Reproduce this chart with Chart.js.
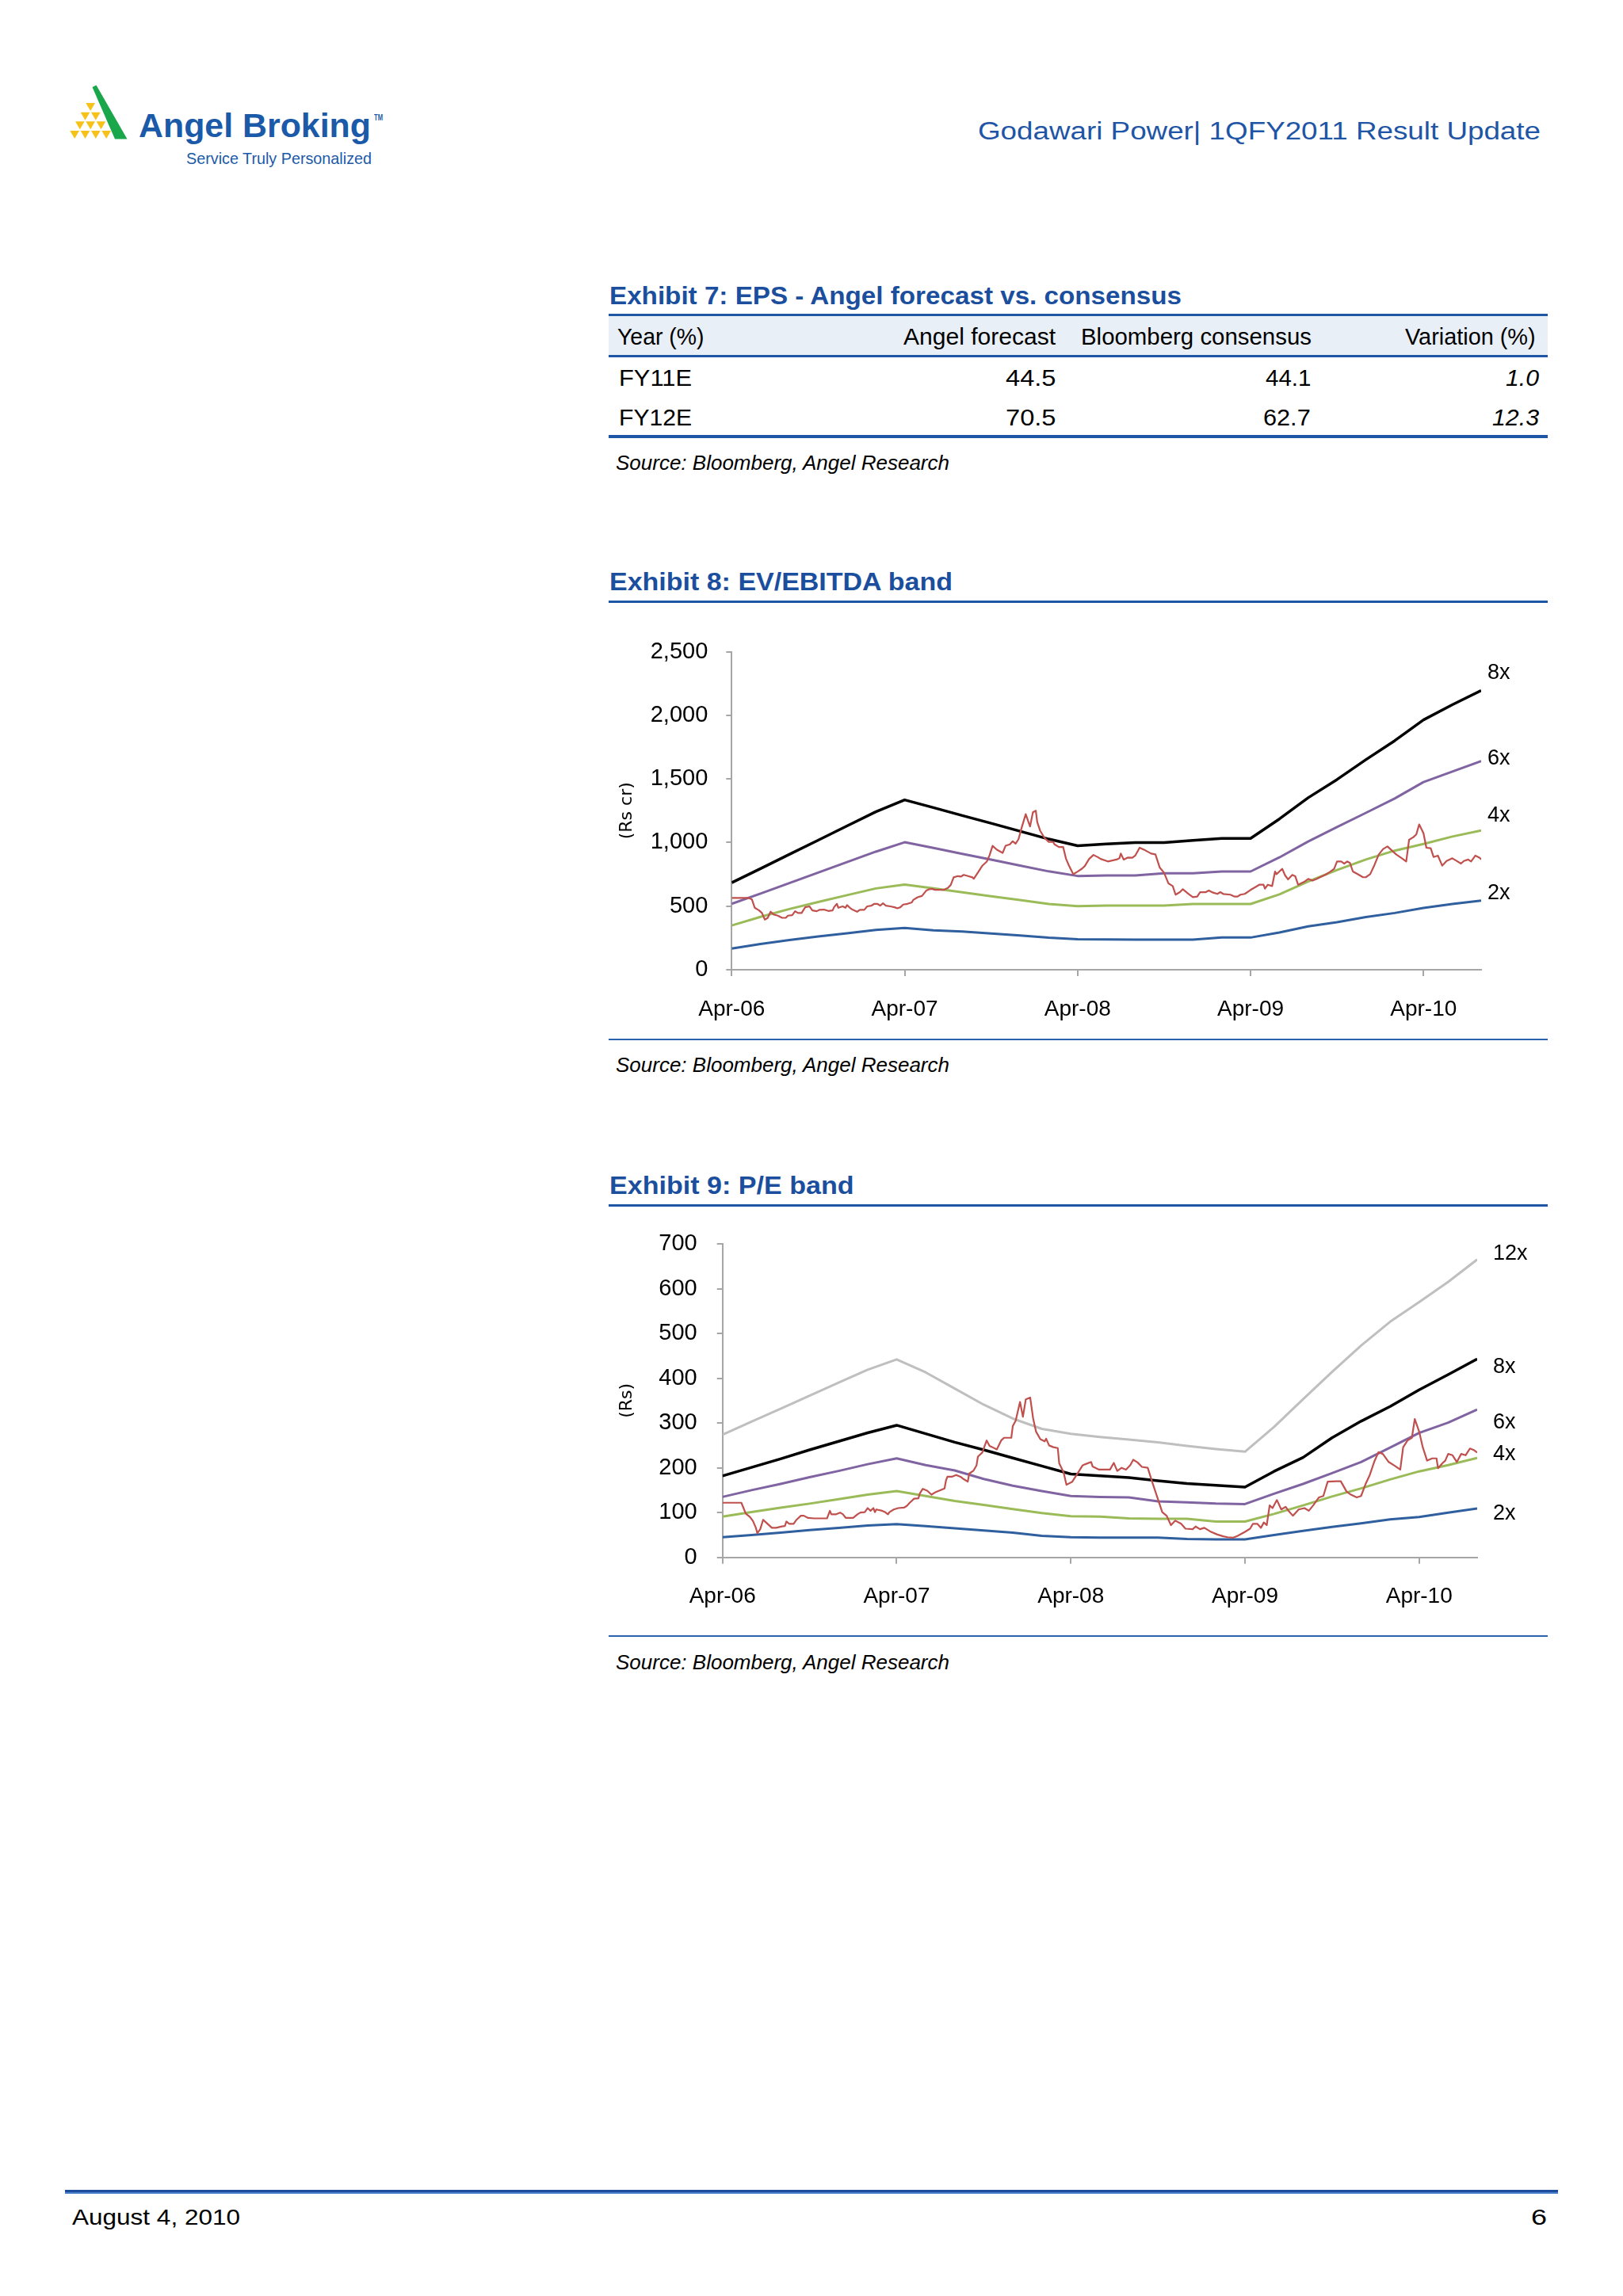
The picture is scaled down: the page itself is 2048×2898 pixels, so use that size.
<!DOCTYPE html>
<html><head><meta charset="utf-8">
<script src="https://cdn.jsdelivr.net/npm/chart.js@4.4.1/dist/chart.umd.min.js"></script>
<style>
html,body{margin:0;padding:0;}
body{width:2048px;height:2898px;position:relative;background:#fff;overflow:hidden;font-family:'Liberation Sans',Arial,sans-serif;}
.t{position:absolute;white-space:nowrap;line-height:1;transform-origin:left top;color:#000;}
.b{font-weight:bold;}
.i{font-style:italic;}
.blue{color:#1b4f9e;}
.rule{position:absolute;}
canvas{position:absolute;}
</style></head><body>

<svg style="position:absolute;left:0;top:0" width="200" height="200" viewBox="0 0 200 200">
  <polygon points="116.5,110 121.5,107.5 160.5,175.5 145,175.5" fill="#1aa64a"/>
  <g fill="#f6c21a">
    <polygon points="108.3,130 120,130 114.2,140"/>
    <polygon points="101.7,141.7 113.3,141.7 107.5,151.7"/>
    <polygon points="115,141.7 126.7,141.7 120.8,151.7"/>
    <polygon points="95,153.3 106.7,153.3 100.8,163.3"/>
    <polygon points="108.3,153.3 120,153.3 114.2,163.3"/>
    <polygon points="121.7,153.3 133.3,153.3 127.5,163.3"/>
    <polygon points="88.3,165 100,165 94.2,175"/>
    <polygon points="101.7,165 113.3,165 107.5,175"/>
    <polygon points="115,165 126.7,165 120.8,175"/>
    <polygon points="128.3,165 140,165 134.2,175"/>
  </g>
</svg>
<div class="t b" style="left:175px;top:138px;font-size:42px;color:#1b5aa8" data-w="293">Angel Broking</div>
<div class="t b" style="left:472px;top:143.5px;font-size:10px;color:#1b5aa8" data-w="11">TM</div>
<div class="t" style="left:235px;top:189px;font-size:21px;color:#1b5aa8" data-w="234">Service Truly Personalized</div>
<div class="t" style="top:150px;font-size:31px;color:#1f55a5" data-w="710" data-r="1944">Godawari Power| 1QFY2011 Result Update</div>

<div class="t b blue" style="left:769px;top:357.7px;font-size:31px" data-w="722">Exhibit 7: EPS - Angel forecast vs. consensus</div>
<div class="rule" style="left:768px;top:399.3px;width:1185px;height:49px;background:#e9eff7"></div>
<div class="rule" style="left:768px;top:396px;width:1185px;height:3.3px;background:#1f55a5"></div>
<div class="rule" style="left:768px;top:448.3px;width:1185px;height:2.4px;background:#1f55a5"></div>
<div class="rule" style="left:768px;top:549.3px;width:1185px;height:3.3px;background:#1f55a5"></div>
<div class="t" style="left:779px;top:411.2px;font-size:29px" data-w="109.5">Year (%)</div>
<div class="t" style="top:411.2px;font-size:29px" data-w="192" data-r="1332">Angel forecast</div>
<div class="t" style="top:411.2px;font-size:29px" data-w="291" data-r="1655">Bloomberg consensus</div>
<div class="t" style="top:411.2px;font-size:29px" data-w="164.6" data-r="1938">Variation (%)</div>
<div class="t" style="left:781.4px;top:462.9px;font-size:29px" data-w="92">FY11E</div>
<div class="t" style="top:462.9px;font-size:29px" data-w="63.5" data-r="1332">44.5</div>
<div class="t" style="top:462.9px;font-size:29px" data-w="57.4" data-r="1654">44.1</div>
<div class="t i" style="top:462.9px;font-size:29px" data-w="42" data-r="1942">1.0</div>
<div class="t" style="left:781.4px;top:512.9px;font-size:29px" data-w="92">FY12E</div>
<div class="t" style="top:512.9px;font-size:29px" data-w="63.5" data-r="1332">70.5</div>
<div class="t" style="top:512.9px;font-size:29px" data-w="59.7" data-r="1654">62.7</div>
<div class="t i" style="top:512.9px;font-size:29px" data-w="59" data-r="1942">12.3</div>
<div class="t i" style="left:777px;top:571.7px;font-size:25px" data-w="421">Source: Bloomberg, Angel Research</div>

<div class="t b blue" style="left:769px;top:719px;font-size:31px" data-w="433">Exhibit 8: EV/EBITDA band</div>
<div class="rule" style="left:768px;top:757.7px;width:1185px;height:3.3px;background:#1f55a5"></div>
<canvas id="evChart" width="1184" height="510" style="left:769px;top:790px;width:1184px;height:510px"></canvas>
<div class="rule" style="left:768px;top:1311px;width:1185px;height:2.2px;background:#2d62ad"></div>
<div class="t i" style="left:777px;top:1332.3px;font-size:25px" data-w="421">Source: Bloomberg, Angel Research</div>

<div class="t b blue" style="left:769px;top:1481px;font-size:31px" data-w="308.5">Exhibit 9: P/E band</div>
<div class="rule" style="left:768px;top:1519.5px;width:1185px;height:3px;background:#1f55a5"></div>
<canvas id="peChart" width="1184" height="520" style="left:769px;top:1530px;width:1184px;height:520px"></canvas>
<div class="rule" style="left:768px;top:2064px;width:1185px;height:2.2px;background:#2d62ad"></div>
<div class="t i" style="left:777px;top:2086.2px;font-size:25px" data-w="421">Source: Bloomberg, Angel Research</div>

<div class="rule" style="left:82px;top:2764px;width:1884px;height:2.8px;background:#1c4d9c"></div>
<div class="rule" style="left:82px;top:2766.8px;width:1884px;height:2px;background:#4a80cc"></div>
<div class="t" style="left:91px;top:2784.7px;font-size:28px" data-w="212">August 4, 2010</div>
<div class="t" style="top:2784.7px;font-size:28px" data-w="20" data-r="1952">6</div>

<script>
// ---------- shared axis data ----------
const bandMonths = [0,2,4,6,8,10,12,14,16,18,20,22,24,26,28,30,32,34,36,38,40,42,44,46,48,50,52];
const tickMonths = [0,12,24,36,48];
const tickLabels = ['Apr-06','Apr-07','Apr-08','Apr-09','Apr-10'];

// ---------- Exhibit 8: EV/EBITDA band (Rs cr) ----------
const ev8x = [684,795,907,1018,1130,1241,1335,1274,1212,1151,1089,1027,974,988,1000,1000,1017,1032,1032,1185,1352,1495,1651,1800,1964,2083,2194];
const ev6x = [518,599,681,764,846,928,1002,957,911,865,819,773,737,741,741,758,758,772,772,883,1008,1122,1233,1346,1475,1557,1640];
const ev4x = [348,416,477,532,586,639,670,640,608,578,548,517,500,505,505,505,517,517,517,592,693,784,866,936,989,1047,1094];
const ev2x = [166,202,233,261,287,313,328,310,300,285,270,252,240,238,237,237,237,253,253,293,341,373,414,446,486,517,544];
const evPriceMonths = [
  0,1.2,1.4,1.6,1.9,2.1,2.3,2.5,2.7,2.9,
  3.2,3.5,3.75,3.9,4.2,4.4,4.6,4.85,5.1,5.4,
  5.6,5.9,6.1,6.4,6.7,7.0,7.1,7.3,7.4,7.7,
  7.9,8.0,8.2,8.4,8.7,8.9,9.2,9.4,9.7,9.9,
  10.1,10.3,10.5,10.7,11.0,11.3,11.5,11.7,11.9,12.2,
  12.5,12.6,12.9,13.2,13.5,13.7,13.9,14.1,14.5,14.7,
  15.0,15.2,15.4,15.7,15.9,16.1,16.4,16.7,16.8,17.1,
  17.4,17.7,17.9,18.1,18.4,18.8,19.0,19.3,19.5,19.7,
  19.9,20.1,20.4,20.7,20.9,21.1,21.2,21.4,21.7,22.0,
  22.3,22.4,22.7,23.0,23.2,23.4,23.7,24.0,24.3,24.5,
  24.8,25.1,25.4,25.6,26.1,26.7,26.9,27.0,27.2,27.5,
  27.8,28.0,28.3,28.7,29.1,29.4,29.7,30.0,30.3,30.6,
  30.8,31.1,31.3,31.7,32.0,32.3,32.5,32.9,33.1,33.4,
  33.7,33.9,34.1,34.6,34.9,35.1,35.3,35.6,36.0,36.4,
  36.6,36.9,37.0,37.2,37.5,37.7,37.8,38.0,38.2,38.4,
  38.6,38.9,39.1,39.3,39.7,40.0,40.3,40.6,40.9,41.2,
  41.5,41.8,42.0,42.3,42.5,42.7,42.9,43.1,43.5,43.8,
  44.0,44.3,44.6,44.9,45.2,45.5,45.8,46.1,46.5,46.8,
  47.0,47.3,47.5,47.7,48.0,48.2,48.5,48.7,49.0,49.3,
  49.6,50.0,50.3,50.6,50.8,51.1,51.3,51.6,51.9,52.0];
const evPrice = [
  564,564,553,487,466,446,394,408,456,435,
  425,408,408,425,429,460,446,446,491,498,
  466,460,471,473,462,466,491,518,487,498,
  487,508,487,471,456,471,471,498,504,518,
  518,504,522,504,498,491,483,491,512,518,
  529,549,570,580,622,632,636,628,628,628,
  643,667,726,736,732,746,736,726,715,767,
  819,850,902,974,943,918,974,985,1010,991,
  1026,1109,1223,1126,1238,1250,1161,1093,1037,1005,
  1005,985,964,964,871,819,750,771,794,815,
  871,902,885,871,851,866,876,913,866,882,
  880,897,959,938,913,907,803,762,679,658,
  590,610,633,596,571,575,610,610,623,606,
  596,610,596,590,575,575,590,596,627,654,
  668,668,637,668,658,772,751,772,793,741,
  710,745,735,668,689,714,700,714,731,747,
  768,793,851,851,834,851,839,772,747,727,
  727,751,824,907,949,969,938,907,876,851,
  1021,1042,1063,1142,1073,959,955,886,897,818,
  855,876,855,834,855,866,851,897,880,866];
const evBandNames = ['8x','6x','4x','2x'];
const evBandLabelValues = [2332,1658,1209,599];

// ---------- Exhibit 9: P/E band (Rs) ----------
const pe12x = [274,303,332,361,390,419,442,413,377,341,310,287,276,269,263,257,249,242,236,291,353,414,473,526,570,615,665];
const pe8x = [182,201,220,240,259,278,295,276,257,240,222,204,186,182,178,171,165,161,157,192,223,267,304,337,374,408,443];
const pe6x = [135,150,164,179,193,208,221,206,194,175,160,148,137,135,134,125,123,120,119,142,164,188,213,245,278,301,330];
const pe4x = [91,101,111,120,130,140,148,137,126,117,108,99,92,91,87,86,86,80,80,97,116,136,154,174,192,206,222];
const pe2x = [45,50,55,61,66,71,74,70,65,60,55,48,45,44,44,44,41,40,40,50,59,68,76,85,90,100,109];
const pePriceMonths = [
  0,1.3,1.45,1.6,1.9,2.1,2.3,2.4,2.6,2.8,
  3.0,3.4,3.7,4.1,4.3,4.4,4.6,4.9,5.1,5.4,
  5.6,5.9,6.3,6.6,7.2,7.4,7.5,7.8,8.1,8.3,
  8.5,8.8,9.0,9.3,9.5,9.8,10.0,10.2,10.4,10.5,
  10.6,11.0,11.2,11.4,11.5,11.8,12.1,12.5,12.7,12.9,
  13.2,13.5,13.6,13.8,14.1,14.4,14.7,15.0,15.3,15.4,
  15.5,15.8,16.1,16.4,16.6,16.9,17.0,17.3,17.5,17.6,
  17.9,18.2,18.4,18.6,18.9,19.2,19.4,19.9,20.0,20.2,
  20.5,20.7,20.9,21.2,21.4,21.6,21.9,22.2,22.3,22.5,
  22.8,23.1,23.2,23.5,23.7,24.1,24.4,24.8,25.0,25.4,
  25.5,25.95,26.7,26.96,27.2,27.5,27.8,28.1,28.3,28.6,
  28.9,29.3,29.6,29.9,30.3,30.6,30.9,31.2,31.6,31.9,
  32.4,32.6,32.9,33.2,33.6,34.1,34.5,34.8,35.2,35.5,
  36.0,36.35,36.55,36.85,37.1,37.3,37.5,37.7,37.9,38.2,
  38.5,38.8,39.0,39.3,39.7,40.1,40.4,40.7,41.1,41.4,
  41.7,42.3,42.6,43.0,43.3,43.7,44.0,44.3,44.6,44.9,
  45.2,45.5,45.9,46.3,46.7,46.9,47.2,47.5,47.7,48.0,
  48.25,48.55,48.9,49.2,49.3,49.6,49.8,50.0,50.3,50.6,
  50.9,51.2,51.5,51.8,52.0];
const pePrice = [
  122,122,110,98,90,81,66,54,63,84,
  78,66,66,69,70,80,75,75,84,93,
  93,88,87,87,87,104,96,96,100,96,
  88,88,88,96,100,101,110,104,110,101,
  107,104,101,96,101,107,110,111,115,122,
  131,132,143,153,149,140,146,150,154,172,
  180,180,184,180,175,169,187,194,205,225,
  234,261,249,246,241,261,267,267,293,305,
  347,314,353,357,311,281,264,259,265,250,
  246,244,210,190,162,169,184,205,208,213,
  203,196,196,211,193,200,196,206,218,212,
  202,200,169,140,101,93,72,82,75,64,
  63,69,63,66,58,51,47,45,44,48,
  57,64,75,75,66,78,72,116,110,128,
  107,113,104,93,107,110,104,116,134,137,
  169,170,170,147,140,134,137,163,184,213,
  235,231,213,205,196,246,261,267,309,281,
  246,216,221,221,199,210,216,231,228,213,
  231,228,243,239,234];
const peBandNames = ['12x','8x','6x','4x','2x'];
const peBandLabelValues = [677,425,301,230,97];

// ---------- text width fitting (condensed report font) ----------
document.querySelectorAll('[data-w]').forEach(el => {
  const w = el.getBoundingClientRect().width;
  const tw = +el.dataset.w;
  el.style.transform = 'scaleX(' + (tw / w) + ')';
  if (el.dataset.r) el.style.left = (+el.dataset.r - tw) + 'px';
});

// ---------- charts ----------
const FONT = "'Liberation Sans', Arial, sans-serif";
const AXIS = '#a6a6a6';

const bandLabelPlugin = {
  id: 'bandLabels',
  afterDatasetsDraw(chart, args, opts) {
    const {ctx, chartArea, scales} = chart;
    ctx.save();
    ctx.font = '27px ' + FONT;
    ctx.fillStyle = '#000';
    ctx.textBaseline = 'middle';
    ctx.textAlign = 'left';
    opts.names.forEach((t, i) => {
      ctx.fillText(t, chartArea.right + opts.offset, scales.y.getPixelForValue(opts.values[i]));
    });
    ctx.restore();
  }
};

function toPoints(xs, ys) { return xs.map((x, i) => ({x: x, y: ys[i]})); }

function bandChart(id, o) {
  const datasets = [{
    data: toPoints(o.priceX, o.price), borderColor: '#c0504d', borderWidth: 2.2
  }];
  o.bands.forEach(b => datasets.push({
    data: toPoints(bandMonths, b.values), borderColor: b.color, borderWidth: b.width
  }));
  datasets.forEach(d => { d.pointRadius = 0; d.tension = 0; d.fill = false; d.borderJoinStyle = 'round'; });
  return new Chart(document.getElementById(id), {
    type: 'line',
    data: {datasets},
    options: {
      responsive: false, animation: false, devicePixelRatio: 1,
      layout: {padding: {top: o.padTop, right: o.padRight, bottom: 0, left: 0}},
      plugins: {legend: {display: false}, tooltip: {enabled: false},
        bandLabels: {names: o.labelNames, values: o.labelValues, offset: o.labelOffset}},
      scales: {
        x: {
          type: 'linear', min: 0, max: 52,
          afterBuildTicks: s => { s.ticks = tickMonths.map(v => ({value: v})); },
          afterFit: s => { s.height = o.xHeight; },
          ticks: {callback: (v, i) => tickLabels[i], font: {family: FONT, size: 28}, color: '#000',
                  padding: 25, maxRotation: 0, autoSkip: false},
          grid: {drawOnChartArea: false, drawTicks: true, tickLength: 8, color: AXIS, lineWidth: 2},
          border: {display: true, color: AXIS, width: 2}
        },
        y: {
          min: 0, max: o.yMax,
          afterFit: s => { s.width = o.yWidth; s.paddingTop = 0; s.paddingBottom = 0; },
          ticks: {stepSize: o.yStep, callback: v => v.toLocaleString('en-US'),
                  font: {family: FONT, size: 29}, color: '#000', padding: o.yPad},
          grid: {drawOnChartArea: false, drawTicks: true, tickLength: 7, color: AXIS, lineWidth: 2},
          border: {display: true, color: AXIS, width: 2},
          title: {display: true, text: o.yTitle, color: '#000',
                  font: {family: "'DejaVu Sans', sans-serif", size: 22}, padding: {top: 9, bottom: 0}}
        }
      }
    },
    plugins: [bandLabelPlugin]
  });
}

bandChart('evChart', {
  priceX: evPriceMonths, price: evPrice,
  bands: [
    {values: ev8x, color: '#000000', width: 3.5},
    {values: ev6x, color: '#8064a2', width: 3},
    {values: ev4x, color: '#9bbb59', width: 3},
    {values: ev2x, color: '#2f5f9e', width: 3}
  ],
  labelNames: evBandNames, labelValues: evBandLabelValues, labelOffset: 8,
  yMax: 2500, yStep: 500, yTitle: '(Rs cr)', yWidth: 154.3, yPad: 23,
  padTop: 32.5, padRight: 84, xHeight: 76
});

bandChart('peChart', {
  priceX: pePriceMonths, price: pePrice,
  bands: [
    {values: pe12x, color: '#bfbfbf', width: 3},
    {values: pe8x, color: '#000000', width: 3.5},
    {values: pe6x, color: '#8064a2', width: 3},
    {values: pe4x, color: '#9bbb59', width: 3},
    {values: pe2x, color: '#2f5f9e', width: 3}
  ],
  labelNames: peBandNames, labelValues: peBandLabelValues, labelOffset: 20,
  yMax: 700, yStep: 100, yTitle: '(Rs)', yWidth: 142.7, yPad: 25,
  padTop: 40, padRight: 89, xHeight: 84.3
});
</script>
</body></html>
